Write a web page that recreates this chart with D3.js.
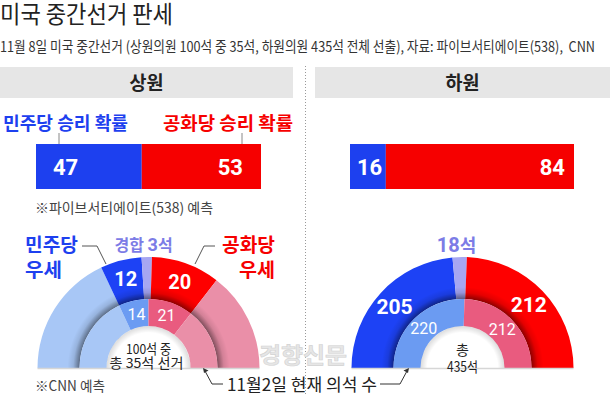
<!DOCTYPE html>
<html>
<head>
<meta charset="utf-8">
<script src="https://cdn.jsdelivr.net/npm/d3@7"></script>
<style>
  body { margin: 0; background: #fff; }
  svg { display: block; }
  text { font-family: "Noto Sans CJK KR", "Noto Sans", sans-serif; white-space: pre; }
  .num { font-family: Roboto, "Noto Sans CJK KR", sans-serif; }
</style>
</head>
<body>
<div id="chart-area"></div>
<script>
const WIDTH = 610
const HEIGHT = 394

// ---- data ----
const chambers = ["상원", "하원"]
const winLabels = ["민주당 승리 확률", "공화당 승리 확률"]
const winProbSenate = [47, 53]
const winProbHouse = [16, 84]

const senateOuterKeys = ["demSafe", "demLean", "toss", "repLean", "repSafe"]
const senateOuterSeats = [36, 12, 3, 20, 29]
const senateInnerKeys = ["demSafe", "demNow", "repNow", "repSafe"]
const senateInnerSeats = [36, 14, 21, 29]

const houseOuterKeys = ["demLean", "toss", "repLean"]
const houseOuterSeats = [205, 18, 212]
const houseInnerKeys = ["demNow", "repNow"]
const houseInnerSeats = [220, 212]

// ---- styles ----
const COLOR = {
  demSafe: "#a8c7f6", demLean: "#1d42f5", toss: "#a6a6f2",
  repLean: "#fe0000", repSafe: "#ea8fa8", demNow: "#6b9bf2", repNow: "#e95b7f"
}
const BLUE = "#1d40ef", RED = "#f60000", TOSS_TXT = "#7c7ce6"
const CY = 368, R_OUT = 111, R_MID = 69, R_IN = 42, R_SHADE = 81

const svg = d3.select("#chart-area").append("svg")
  .attr("width", WIDTH)
  .attr("height", HEIGHT)

const defs = svg.append("defs")
const grad = defs.append("radialGradient")
  .attr("id", "shade")
  .attr("gradientUnits", "userSpaceOnUse")
  .attr("cx", 0).attr("cy", 0).attr("r", R_SHADE)
grad.append("stop").attr("offset", R_MID / R_SHADE).attr("stop-color", "#000").attr("stop-opacity", 0.45)
grad.append("stop").attr("offset", 0.93).attr("stop-color", "#000").attr("stop-opacity", 0.1)
grad.append("stop").attr("offset", 1).attr("stop-color", "#000").attr("stop-opacity", 0)

const holeGrad = defs.append("radialGradient")
  .attr("id", "hole")
  .attr("gradientUnits", "userSpaceOnUse")
  .attr("cx", 0).attr("cy", 0).attr("r", R_IN)
holeGrad.append("stop").attr("offset", 0.84).attr("stop-color", "#000").attr("stop-opacity", 0)
holeGrad.append("stop").attr("offset", 1).attr("stop-color", "#000").attr("stop-opacity", 0.14)

// title + subtitle
svg.append("text")
  .attr("x", 0).attr("y", 23)
  .attr("font-size", 24).attr("fill", "#222")
  .attr("textLength", 173).attr("lengthAdjust", "spacingAndGlyphs")
  .text("미국 중간선거 판세")

svg.append("text")
  .attr("x", 0).attr("y", 52)
  .attr("font-size", 14.5).attr("fill", "#333")
  .attr("textLength", 595).attr("lengthAdjust", "spacingAndGlyphs")
  .text("11월 8일 미국 중간선거 (상원의원 100석 중 35석, 하원의원 435석 전체 선출), 자료: 파이브서티에이트(538),  CNN")

// panels
const PANEL = [
  { x: 0, w: 293, barX: [36, 261], cx: 148.5, inset: [17, 18] },
  { x: 315, w: 295, barX: [350, 574], cx: 462.5, inset: [7, 9] }
]

svg.append("line")
  .attr("x1", 305.5).attr("x2", 305.5)
  .attr("y1", 66).attr("y2", HEIGHT)
  .attr("stroke", "#999").attr("stroke-dasharray", "1,2")

chambers.forEach((name, i) => {
  const p = PANEL[i]
  svg.append("rect")
    .attr("x", p.x).attr("y", 67)
    .attr("width", p.w).attr("height", 31)
    .attr("fill", "#e6e6e6")
  svg.append("text")
    .attr("x", p.x + p.w / 2).attr("y", 89.5)
    .attr("text-anchor", "middle")
    .attr("font-size", 19).attr("font-weight", 700).attr("fill", "#222")
    .attr("textLength", 34).attr("lengthAdjust", "spacingAndGlyphs")
    .text(name)
})

// ---- probability bars ----
function drawBar(p, probs) {
  const x = d3.scaleLinear().domain([0, d3.sum(probs)]).range(p.barX)
  const stack = [{ v: probs[0], s: 0, c: BLUE }, { v: probs[1], s: probs[0], c: RED }]
  const g = svg.append("g")
  g.selectAll("rect")
    .data(stack)
    .enter().append("rect")
    .attr("x", d => x(d.s))
    .attr("y", 144)
    .attr("width", d => x(d.s + d.v) - x(d.s))
    .attr("height", 45)
    .attr("fill", d => d.c)
  g.append("text")
    .attr("class", "num")
    .attr("x", x(0) + p.inset[0]).attr("y", 175)
    .attr("font-size", 22).attr("font-weight", 700).attr("fill", "#fff")
    .text(probs[0])
  g.append("text")
    .attr("class", "num")
    .attr("x", x(d3.sum(probs)) - p.inset[1]).attr("y", 175)
    .attr("text-anchor", "end")
    .attr("font-size", 22).attr("font-weight", 700).attr("fill", "#fff")
    .text(probs[1])
  return x
}

const xs = drawBar(PANEL[0], winProbSenate)
drawBar(PANEL[1], winProbHouse)

svg.append("text")
  .attr("x", 3).attr("y", 130)
  .attr("font-size", 18).attr("font-weight", 700).attr("fill", BLUE)
  .attr("textLength", 125).attr("lengthAdjust", "spacingAndGlyphs")
  .text(winLabels[0])
svg.append("text")
  .attr("x", 293).attr("y", 130)
  .attr("text-anchor", "end")
  .attr("font-size", 18).attr("font-weight", 700).attr("fill", RED)
  .attr("textLength", 130).attr("lengthAdjust", "spacingAndGlyphs")
  .text(winLabels[1])

;[xs(0) + 23, xs(100) - 19].forEach(px => {
  svg.append("line")
    .attr("x1", px).attr("x2", px).attr("y1", 133).attr("y2", 144)
    .attr("stroke", "#888")
})

svg.append("text")
  .attr("x", 35).attr("y", 212.5)
  .attr("font-size", 14).attr("fill", "#444")
  .attr("textLength", 178).attr("lengthAdjust", "spacingAndGlyphs")
  .text("※파이브서티에이트(538) 예측")

// watermark
svg.append("text")
  .attr("x", 303).attr("y", 363)
  .attr("text-anchor", "middle")
  .attr("font-size", 22).attr("font-weight", 700)
  .attr("fill", "#e6e6e6").attr("stroke", "#d2d2d2").attr("stroke-width", 0.6)
  .attr("textLength", 88).attr("lengthAdjust", "spacingAndGlyphs")
  .text("경향신문")

// ---- hemicycles ----
const pie = d3.pie().sort(null).startAngle(-Math.PI / 2).endAngle(Math.PI / 2)
const outerArc = d3.arc().innerRadius(R_MID).outerRadius(R_OUT)
const innerArc = d3.arc().innerRadius(R_IN).outerRadius(R_MID)
const labelArc = d3.arc().innerRadius(R_MID).outerRadius(R_OUT + 4)
const HALF = { startAngle: -Math.PI / 2, endAngle: Math.PI / 2 }

function drawHemicycle(cx, outerSeats, outerKeys, innerSeats, innerKeys) {
  const g = svg.append("g").attr("transform", `translate(${cx}, ${CY})`)
  const outer = pie(outerSeats).map((d, i) => Object.assign(d, { key: outerKeys[i] }))
  const inner = pie(innerSeats).map((d, i) => Object.assign(d, { key: innerKeys[i] }))

  g.selectAll("path.outer")
    .data(outer)
    .enter().append("path")
    .attr("class", "outer")
    .attr("d", outerArc)
    .attr("fill", d => COLOR[d.key])

  g.append("path")
    .attr("d", d3.arc().innerRadius(R_MID).outerRadius(R_SHADE)(HALF))
    .attr("fill", "url(#shade)")

  g.selectAll("path.inner")
    .data(inner)
    .enter().append("path")
    .attr("class", "inner")
    .attr("d", innerArc)
    .attr("fill", d => COLOR[d.key])

  g.append("path")
    .attr("d", d3.arc().innerRadius(R_IN - 7).outerRadius(R_IN)(HALF))
    .attr("fill", "url(#hole)")

  g.append("line")
    .attr("x1", -R_OUT).attr("x2", R_OUT)
    .attr("y1", 0.5).attr("y2", 0.5)
    .attr("stroke", "#d6d6d6").attr("stroke-width", 1.5)

  g.selectAll("text.big")
    .data(outer.filter(d => d.key === "demLean" || d.key === "repLean"))
    .enter().append("text")
    .attr("class", "num big")
    .attr("transform", d => `translate(${labelArc.centroid(d)})`)
    .attr("dy", "0.36em")
    .attr("text-anchor", "middle")
    .attr("font-size", outerSeats.length > 3 ? 20 : 21)
    .attr("font-weight", 700).attr("fill", "#fff")
    .text(d => d.value)

  g.selectAll("text.small")
    .data(inner.filter(d => d.key === "demNow" || d.key === "repNow"))
    .enter().append("text")
    .attr("class", "num small")
    .attr("transform", d => `translate(${innerArc.centroid(d)})`)
    .attr("dy", "0.36em")
    .attr("text-anchor", "middle")
    .attr("font-size", 16).attr("fill", "#fff")
    .text(d => d.value)

  const toss = outer.find(d => d.key === "toss")
  const mid = (toss.startAngle + toss.endAngle) / 2
  return { g, tossPos: [Math.sin(mid) * 122, -Math.cos(mid) * 122], toss }
}

const sen = drawHemicycle(PANEL[0].cx, senateOuterSeats, senateOuterKeys, senateInnerSeats, senateInnerKeys)
const hou = drawHemicycle(PANEL[1].cx, houseOuterSeats, houseOuterKeys, houseInnerSeats, houseInnerKeys)

// toss-up labels
const tS = sen.g.append("text")
  .attr("x", sen.tossPos[0] - 3).attr("y", sen.tossPos[1] + 5)
  .attr("text-anchor", "middle")
  .attr("font-size", 16).attr("font-weight", 700).attr("fill", TOSS_TXT)
tS.append("tspan").text("경합 ")
tS.append("tspan").attr("class", "num").attr("font-size", 18).text(sen.toss.value)
tS.append("tspan").text("석")

const tH = hou.g.append("text")
  .attr("x", hou.tossPos[0] - 3).attr("y", hou.tossPos[1] + 6)
  .attr("text-anchor", "middle")
  .attr("font-size", 18).attr("font-weight", 700).attr("fill", TOSS_TXT)
tH.append("tspan").attr("class", "num").attr("font-size", 20).text(hou.toss.value)
tH.append("tspan").text("석")

// senate lean labels
const leanText = [
  { x: 25, anchor: "start", c: BLUE, lines: ["민주당", "우세"], w: [53, 37] },
  { x: 275, anchor: "end", c: RED, lines: ["공화당", "우세"], w: [53, 36] }
]
leanText.forEach(t => {
  t.lines.forEach((s, k) => {
    svg.append("text")
      .attr("x", t.x).attr("y", 252 + k * 25)
      .attr("text-anchor", t.anchor)
      .attr("font-size", 19).attr("font-weight", 700).attr("fill", t.c)
      .attr("textLength", t.w[k]).attr("lengthAdjust", "spacingAndGlyphs")
      .text(s)
  })
})
svg.append("path").attr("d", "M82,246H97L106,264").attr("fill", "none").attr("stroke", "#555")
svg.append("path").attr("d", "M215,246H204L195,264").attr("fill", "none").attr("stroke", "#555")

// center texts
svg.append("text")
  .attr("x", PANEL[0].cx).attr("y", 353.5).attr("text-anchor", "middle")
  .attr("font-size", 13.5).attr("fill", "#222")
  .attr("textLength", 45).attr("lengthAdjust", "spacingAndGlyphs")
  .text("100석 중")
svg.append("text")
  .attr("x", PANEL[0].cx - 2).attr("y", 367.5).attr("text-anchor", "middle")
  .attr("font-size", 13.5).attr("fill", "#222")
  .attr("textLength", 74).attr("lengthAdjust", "spacingAndGlyphs")
  .text("총 35석 선거")
svg.append("text")
  .attr("x", PANEL[1].cx).attr("y", 354.5).attr("text-anchor", "middle")
  .attr("font-size", 14).attr("fill", "#222")
  .text("총")
svg.append("text")
  .attr("x", PANEL[1].cx).attr("y", 372).attr("text-anchor", "middle")
  .attr("font-size", 14).attr("fill", "#222")
  .attr("textLength", 31).attr("lengthAdjust", "spacingAndGlyphs")
  .text("435석")

// footnotes
svg.append("text")
  .attr("x", 35).attr("y", 390.5)
  .attr("font-size", 14).attr("fill", "#444")
  .attr("textLength", 70).attr("lengthAdjust", "spacingAndGlyphs")
  .text("※CNN 예측")

svg.append("text")
  .attr("x", 227).attr("y", 390.5)
  .attr("font-size", 17).attr("fill", "#222")
  .attr("textLength", 150).attr("lengthAdjust", "spacingAndGlyphs")
  .text("11월2일 현재 의석 수")

svg.append("path").attr("d", "M205,371L212,384H223").attr("fill", "none").attr("stroke", "#333")
svg.append("path").attr("d", "M380,384H400L407,371").attr("fill", "none").attr("stroke", "#333")
svg.append("path").attr("d", "M203,368L208.5,370.5L204,373Z").attr("fill", "#333")
svg.append("path").attr("d", "M409,368L403.5,370.5L408,373Z").attr("fill", "#333")
</script>
</body>
</html>
